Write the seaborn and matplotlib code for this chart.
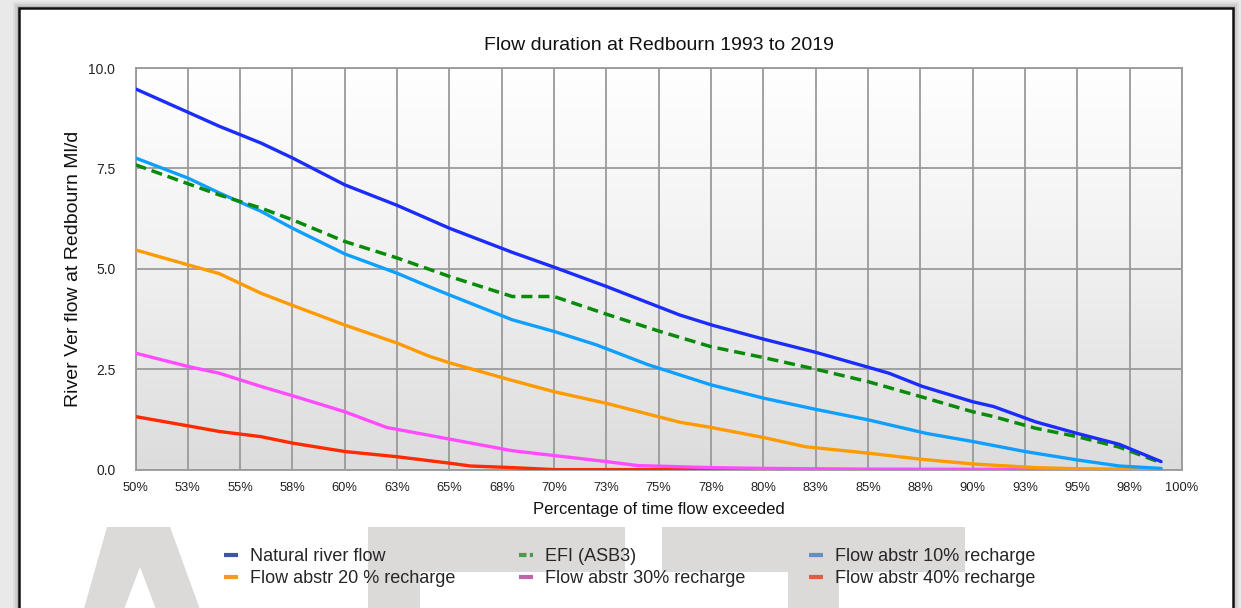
import numpy as np
import matplotlib
matplotlib.use("Agg")
import matplotlib.pyplot as plt
import seaborn as sns
from matplotlib.lines import Line2D
from matplotlib.patches import Rectangle, Polygon
from matplotlib.colors import LinearSegmentedColormap

# ---------------- data ----------------
title = "Flow duration at Redbourn 1993 to 2019"
xlabel = "Percentage of time flow exceeded"
ylabel = "River Ver flow at Redbourn Ml/d"

x_ticks = [50, 52.5, 55, 57.5, 60, 62.5, 65, 67.5, 70, 72.5, 75,
           77.5, 80, 82.5, 85, 87.5, 90, 92.5, 95, 97.5, 100]
x_tick_labels = ["50%", "53%", "55%", "58%", "60%", "63%", "65%", "68%", "70%",
                 "73%", "75%", "78%", "80%", "83%", "85%", "88%", "90%", "93%",
                 "95%", "98%", "100%"]
y_ticks = [0.0, 2.5, 5.0, 7.5, 10.0]
y_tick_labels = ["0.0", "2.5", "5.0", "7.5", "10.0"]

natural_x = [50, 52.5, 54, 56, 57.5, 60, 62.5, 65, 68, 70, 72.5, 76, 77.6, 80,
             82.5, 85, 86, 87.6, 90, 91, 93, 95, 97, 99]
natural_y = [9.48, 8.90, 8.55, 8.13, 7.76, 7.09, 6.58, 6.01, 5.41, 5.04, 4.56,
             3.85, 3.59, 3.25, 2.92, 2.55, 2.40, 2.07, 1.69, 1.57, 1.19, 0.90,
             0.63, 0.20]

efi_x = [50, 52.5, 54, 56, 57.5, 60, 62.5, 65, 68, 70, 72.5, 75, 77.5, 80,
         82.5, 85, 87.5, 90, 91, 93, 95, 97, 99]
efi_y = [7.59, 7.12, 6.84, 6.51, 6.22, 5.68, 5.27, 4.81, 4.31, 4.31, 3.87,
         3.45, 3.06, 2.79, 2.50, 2.19, 1.82, 1.44, 1.32, 1.03, 0.82, 0.56, 0.17]

abs10_x = [50, 52.5, 54, 56, 57.5, 60, 62.5, 64, 65, 68, 70, 72, 74.5, 76,
           77.5, 80, 82.5, 85, 87.8, 90, 92.5, 95, 97, 99]
abs10_y = [7.76, 7.26, 6.89, 6.43, 6.01, 5.37, 4.89, 4.56, 4.35, 3.73, 3.44,
           3.11, 2.61, 2.36, 2.11, 1.78, 1.50, 1.24, 0.90, 0.70, 0.45, 0.24,
           0.09, 0.03]

abs20_x = [50, 52.5, 54, 56, 57.5, 60, 62.5, 64, 65, 68, 70, 72.5, 76, 77.5,
           80, 82, 85, 87.5, 90, 93, 95, 99]
abs20_y = [5.47, 5.10, 4.88, 4.39, 4.09, 3.60, 3.15, 2.83, 2.66, 2.22, 1.94,
           1.65, 1.18, 1.05, 0.80, 0.57, 0.41, 0.26, 0.14, 0.05, 0.02, 0.0]

abs30_x = [50, 52.5, 54, 56, 57.5, 60, 62, 65, 68, 70, 72.5, 74, 77.5, 80,
           85, 99]
abs30_y = [2.90, 2.57, 2.40, 2.07, 1.84, 1.44, 1.05, 0.76, 0.47, 0.35, 0.20,
           0.10, 0.05, 0.03, 0.01, 0.0]

abs40_x = [50, 52.5, 54, 56, 57.5, 60, 62.5, 65, 66, 68, 70, 99]
abs40_y = [1.32, 1.09, 0.95, 0.82, 0.66, 0.45, 0.32, 0.16, 0.09, 0.05, 0.0, 0.0]

series_names = ["Natural river flow", "EFI (ASB3)", "Flow abstr 10% recharge",
                "Flow abstr 20 % recharge", "Flow abstr 30% recharge",
                "Flow abstr 40% recharge"]
line_colors = ["#1c2cff", "#0a8a0a", "#0fa0ff", "#ff9a00", "#ff4cff", "#ff2a00"]
legend_colors = ["#3b55a8", "#4a9a50", "#6190c4", "#f39a2c", "#c464a8", "#d9603d"]

# ---------------- styling ----------------
sns.set_theme(style="white")
plt.rcParams['font.family'] = ['Liberation Sans', 'DejaVu Sans']

W, H = 1241, 608
fig = plt.figure(figsize=(W / 100, H / 100), dpi=100, facecolor="#e9e9e9")


def fx(px):
    return px / W


def fy(py):
    return 1 - py / H


# drop shadow + white panel with black border
for off, a in [(6, 0.05), (4, 0.07), (2, 0.10)]:
    fig.add_artist(Rectangle((fx(19 - off), fy(650)), fx(1233 + off) - fx(19 - off),
                             fy(8 - off) - fy(650), transform=fig.transFigure,
                             facecolor="black", alpha=a, edgecolor="none", zorder=-5))
fig.add_artist(Rectangle((fx(19), fy(650)), fx(1233) - fx(19), fy(8) - fy(650),
                         transform=fig.transFigure, facecolor="white",
                         edgecolor="#111111", linewidth=1.8, zorder=-4))

# watermark shapes
wm = "#dcd9d9"


def poly(pts, color, z=-3):
    fig.add_artist(Polygon([(fx(x), fy(y)) for x, y in pts], closed=True,
                           transform=fig.transFigure, facecolor=color,
                           edgecolor="none", zorder=z))


poly([(83, 612), (107, 527), (170, 527), (201, 612)], wm)
poly([(140, 567), (123, 612), (157, 612)], "white", -2.5)
poly([(368, 527), (625, 527), (625, 572), (420, 572), (420, 612), (368, 612)], wm)
poly([(662, 527), (965, 527), (965, 572), (839, 572), (839, 612), (788, 612),
      (788, 572), (662, 572)], wm)

# axes
ax = fig.add_axes([fx(135.5), fy(469.6), fx(1182) - fx(135.5), fy(68) - fy(469.6)])
ax.set_facecolor("none")
cmap = LinearSegmentedColormap.from_list("bg", ["#ffffff", "#f0f0f0", "#dcdcdc"])
ax.imshow(np.linspace(0, 1, 256).reshape(-1, 1), cmap=cmap, extent=[0, 1, 0, 1],
          transform=ax.transAxes, aspect="auto", interpolation="bilinear", zorder=0)

data = [(natural_x, natural_y), (efi_x, efi_y), (abs10_x, abs10_y),
        (abs20_x, abs20_y), (abs30_x, abs30_y), (abs40_x, abs40_y)]
zorders = [8, 7, 6, 5, 4, 3]
for i, (xs, ys) in enumerate(data):
    kw = dict(color=line_colors[i], linewidth=2.4, zorder=zorders[i])
    if i == 1:
        kw["linestyle"] = (0, (3.2, 1.7))
        kw["linewidth"] = 2.5
    sns.lineplot(x=xs, y=ys, ax=ax, **kw)

ax.set_xlim(50, 100)
ax.set_ylim(0, 10)
ax.set_xticks(x_ticks)
ax.set_xticklabels(x_tick_labels, fontsize=9.3)
ax.set_yticks(y_ticks)
ax.set_yticklabels(y_tick_labels, fontsize=10)
ax.grid(True, color="#9a9a9a", linewidth=1.3)
ax.set_axisbelow(True)
for s in ax.spines.values():
    s.set_color("#9a9a9a")
    s.set_linewidth(1.3)
ax.tick_params(axis="both", direction="out", length=5, width=1.2, color="#9a9a9a",
               labelcolor="#222222")
ax.tick_params(axis="x", pad=4)
ax.tick_params(axis="y", pad=9.5)

ax.set_title(title, fontsize=14, color="#111111", pad=13)
ax.set_xlabel(xlabel, fontsize=12, color="#111111")
ax.xaxis.set_label_coords(0.5, -0.081)
ax.set_ylabel(ylabel, fontsize=14, color="#111111")
ax.yaxis.set_label_coords(-0.051, 0.5)

# legend (row-wise order in 3 columns)
handles = []
for i in range(6):
    if i == 1:
        h = Line2D([], [], color=legend_colors[i], linewidth=3,
                   linestyle=(0, (1.8, 0.8)))
    else:
        h = Line2D([], [], color=legend_colors[i], linewidth=3,
                   solid_capstyle="butt")
    handles.append(h)
order = [0, 3, 1, 4, 2, 5]
fig.legend([handles[i] for i in order], [series_names[i] for i in order],
           loc="upper left", bbox_to_anchor=(fx(224), fy(548)), ncol=3,
           frameon=False, fontsize=13, handlelength=0.8, handletextpad=0.65,
           columnspacing=3.5, labelspacing=0.27, borderpad=0, borderaxespad=0)

fig.savefig("out.png", dpi=100, facecolor=fig.get_facecolor())
